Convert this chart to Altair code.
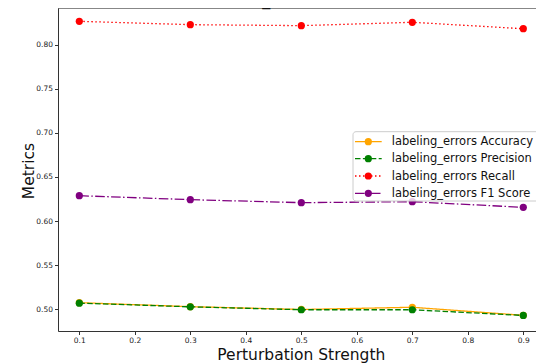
import altair as alt
import pandas as pd

# ---- data ----
strengths = [0.1, 0.3, 0.5, 0.7, 0.9]
accuracy = [0.5075, 0.5030, 0.4998, 0.5023, 0.4932]
precision = [0.5070, 0.5028, 0.4995, 0.4995, 0.4930]
recall = [0.8265, 0.8227, 0.8216, 0.8254, 0.8181]
f1_score = [0.6288, 0.6243, 0.6209, 0.6220, 0.6156]

series_names = [
    "labeling_errors Accuracy",
    "labeling_errors Precision",
    "labeling_errors Recall",
    "labeling_errors F1 Score",
]
series_values = [accuracy, precision, recall, f1_score]
x_ticks = [0.1, 0.2, 0.3, 0.4, 0.5, 0.6, 0.7, 0.8, 0.9]
y_ticks = [0.50, 0.55, 0.60, 0.65, 0.70, 0.75, 0.80]
title_text = "Sensitivity Analysis for labeling_errors Perturbation (Dataset size: small)"

# ---- styles ----
colors = ["#FFA500", "#008000", "#FF0000", "#800080"]
dashes = [[1, 0], [5.5, 2.4], [1.5, 2.5], [9.6, 2.4, 1.5, 2.4]]
FONT = "DejaVu Sans"

W, H = 478, 323
x_scale = alt.Scale(domain=[0.0616, 0.9229], nice=False, zero=False)
y_scale = alt.Scale(domain=[0.4754, 0.8416], nice=False, zero=False)

x_axis = alt.Axis(
    values=x_ticks, format=".1f", grid=False, labelFontSize=7.5, tickSize=3.5,
    labelPadding=1.5, labelColor="#222", domainColor="#333", tickColor="#333",
    title="Perturbation Strength", titleFontSize=15.5, titleFontWeight="normal",
    titleX=242.8, titleY=28, titleBaseline="alphabetic", titleAlign="center",
    titleColor="#111", labelFlush=False,
)
y_axis = alt.Axis(
    values=y_ticks, format=".2f", grid=False, labelFontSize=7.5, tickSize=3.5,
    labelPadding=2, labelColor="#222", domainColor="#333", tickColor="#333",
    title="Metrics", titleFontSize=15.5, titleFontWeight="normal",
    titleX=-25, titleY=162.5, titleBaseline="alphabetic", titleAlign="center",
    titleAngle=-90, titleColor="#111", labelFlush=False,
)

layers = []
for i, (name, vals) in enumerate(zip(series_names, series_values)):
    df = pd.DataFrame({"strength": strengths, "value": vals, "series": name})
    base = alt.Chart(df)
    enc = dict(
        x=alt.X("strength:Q", scale=x_scale, axis=x_axis),
        y=alt.Y("value:Q", scale=y_scale, axis=y_axis),
    )
    line = base.mark_line(color=colors[i], strokeDash=dashes[i], strokeWidth=1.3).encode(**enc)
    pts = base.mark_point(filled=True, color=colors[i], size=52, opacity=1).encode(**enc)
    layers += [line, pts]

# top spine
top_df = pd.DataFrame({"k": [0]})
layers.append(
    alt.Chart(top_df).mark_rule(color="#333", strokeWidth=1).encode(
        x=alt.value(0), x2=alt.value(W), y=alt.value(0)
    )
)

# legend box
layers.append(
    alt.Chart(top_df).mark_rect(
        fill="white", fillOpacity=0.8, stroke="#cccccc", strokeWidth=1, cornerRadius=3
    ).encode(x=alt.value(295), x2=alt.value(482), y=alt.value(123.7), y2=alt.value(193))
)
leg_y = [133.7, 150.7, 168.0, 185.3]
for i, name in enumerate(series_names):
    ldf = pd.DataFrame({"label": [name]})
    lc = alt.Chart(ldf)
    layers.append(
        lc.mark_rule(color=colors[i], strokeDash=dashes[i], strokeWidth=1.3).encode(
            x=alt.value(297), x2=alt.value(323.7), y=alt.value(leg_y[i])
        )
    )
    layers.append(
        lc.mark_point(filled=True, color=colors[i], size=52, opacity=1).encode(
            x=alt.value(310.3), y=alt.value(leg_y[i])
        )
    )
    layers.append(
        lc.mark_text(align="left", baseline="middle", fontSize=11.5, font=FONT, color="#111").encode(
            x=alt.value(333.7), y=alt.value(leg_y[i] + 0.5), text="label:N"
        )
    )

# (mostly clipped, as in the reference) figure title
tdf = pd.DataFrame({"t": [title_text]})
layers.append(
    alt.Chart(tdf).mark_text(align="center", baseline="alphabetic", fontSize=16, font=FONT, color="#111").encode(
        x=alt.value(243.7), y=alt.value(-3), text="t:N"
    )
)

chart = alt.layer(*layers).properties(
    width=W, height=H,
    autosize=alt.AutoSizeParams(type="none"),
    padding={"left": 50, "top": 0, "right": 0, "bottom": 33},
).configure_view(stroke=None).configure(font=FONT)

chart.save("out.html", embed_options={"renderer": "svg", "actions": False})
